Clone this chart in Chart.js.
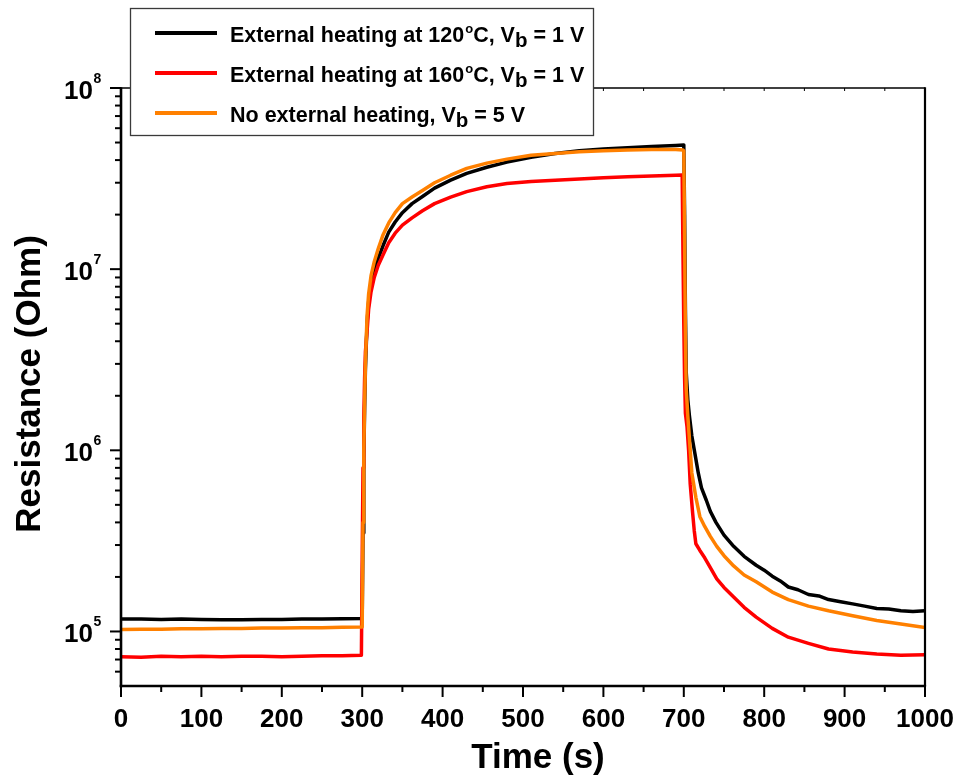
<!DOCTYPE html>
<html>
<head>
<meta charset="utf-8">
<title>Resistance response</title>
<script src="https://cdn.jsdelivr.net/npm/chart.js@4/dist/chart.umd.min.js"></script>
<style>
  html, body { margin: 0; padding: 0; background: #fff; }
  #wrap { width: 960px; height: 779px; position: relative; }
</style>
</head>
<body>
<div id="wrap"><canvas id="c" width="960" height="779"></canvas></div>
<script>
// ---- measured series: time (s) and resistance (Ohm) ----
const blackT = [0, 25, 50, 75, 100, 125, 150, 175, 200, 225, 250, 275, 299, 300,
  301, 302, 303, 304, 306, 308, 311, 315, 320, 326, 333, 341, 350, 362, 375, 390, 410, 430, 455, 480, 510, 540, 570, 600, 630, 660, 690,
  700, 701, 702, 703, 705, 707, 710, 714, 718, 722, 728, 733, 740, 750, 762, 775, 790, 800, 810, 820, 830, 842, 855, 868, 880, 895, 910, 925, 940, 955, 970, 985, 1000];
const blackR = [1.17e5, 1.17e5, 1.165e5, 1.17e5, 1.165e5, 1.16e5, 1.16e5, 1.165e5, 1.165e5, 1.17e5, 1.17e5, 1.175e5, 1.18e5, 1.18e5,
  3.5e5, 9e5, 1.7e6, 2.8e6, 5.0e6, 6.6e6, 8.2e6, 9.8e6, 1.15e7, 1.35e7, 1.6e7, 1.82e7, 2.05e7, 2.3e7, 2.52e7, 2.8e7, 3.1e7, 3.38e7, 3.65e7, 3.9e7, 4.15e7, 4.35e7, 4.5e7, 4.6e7, 4.68e7, 4.75e7, 4.82e7,
  4.85e7, 2.0e7, 6e6, 2.7e6, 1.9e6, 1.55e6, 1.2e6, 9.5e5, 7.5e5, 6.2e5, 5.3e5, 4.6e5, 4.0e5, 3.4e5, 2.95e5, 2.6e5, 2.32e5, 2.18e5, 2.02e5, 1.9e5, 1.76e5, 1.7e5, 1.6e5, 1.57e5, 1.5e5, 1.46e5, 1.42e5, 1.38e5, 1.34e5, 1.33e5, 1.3e5, 1.29e5, 1.3e5];

const redT = [0, 25, 50, 75, 100, 125, 150, 175, 200, 225, 250, 275, 299,
  300, 301, 302, 303, 304, 306, 308, 311, 315, 320, 326, 333, 341, 350, 362, 375, 390, 410, 430, 455, 480, 510, 540, 570, 600, 630, 660, 690, 698,
  699, 700, 701, 702, 704, 706, 708, 711, 713, 715, 720, 726, 733, 741, 750, 762, 775, 790, 810, 830, 855, 880, 910, 940, 970, 1000];
const redR = [7.25e4, 7.2e4, 7.3e4, 7.25e4, 7.3e4, 7.25e4, 7.3e4, 7.3e4, 7.25e4, 7.3e4, 7.35e4, 7.35e4, 7.4e4,
  2.5e5, 8e5, 1.5e6, 2.5e6, 3.5e6, 4.5e6, 6.0e6, 7.5e6, 9.0e6, 1.05e7, 1.2e7, 1.4e7, 1.58e7, 1.75e7, 1.92e7, 2.1e7, 2.3e7, 2.5e7, 2.68e7, 2.85e7, 2.97e7, 3.05e7, 3.1e7, 3.15e7, 3.2e7, 3.24e7, 3.27e7, 3.3e7, 3.31e7,
  1.2e7, 5e6, 2.5e6, 1.6e6, 1.35e6, 1.0e6, 6.5e5, 4.5e5, 3.6e5, 3.05e5, 2.8e5, 2.55e5, 2.25e5, 1.95e5, 1.75e5, 1.55e5, 1.36e5, 1.2e5, 1.04e5, 9.3e4, 8.6e4, 8.0e4, 7.7e4, 7.5e4, 7.4e4, 7.45e4];

const orangeT = [0, 25, 50, 75, 100, 125, 150, 175, 200, 225, 250, 275, 299, 300,
  301, 302, 303, 304, 306, 308, 311, 315, 320, 326, 333, 341, 350, 362, 375, 390, 410, 430, 455, 480, 510, 540, 570, 600, 630, 660, 690, 699,
  700, 701, 702, 703, 705, 708, 710, 715, 720, 726, 733, 741, 750, 762, 775, 790, 810, 830, 855, 880, 910, 940, 970, 1000];
const orangeR = [1.025e5, 1.03e5, 1.03e5, 1.035e5, 1.035e5, 1.04e5, 1.04e5, 1.045e5, 1.045e5, 1.05e5, 1.05e5, 1.055e5, 1.06e5, 1.06e5,
  4e5, 1.0e6, 1.8e6, 3.0e6, 5.5e6, 7.3e6, 9.2e6, 1.1e7, 1.3e7, 1.55e7, 1.8e7, 2.05e7, 2.3e7, 2.5e7, 2.72e7, 3.0e7, 3.3e7, 3.6e7, 3.85e7, 4.05e7, 4.25e7, 4.35e7, 4.45e7, 4.5e7, 4.55e7, 4.57e7, 4.58e7, 4.55e7,
  4.5e7, 1.5e7, 4.5e6, 2.2e6, 1.55e6, 1.0e6, 7.5e5, 5.5e5, 4.3e5, 3.8e5, 3.35e5, 2.95e5, 2.62e5, 2.3e5, 2.05e5, 1.88e5, 1.65e5, 1.5e5, 1.38e5, 1.3e5, 1.22e5, 1.15e5, 1.1e5, 1.05e5];

// ---- labels and ticks ----
const seriesLabels = ['External heating at 120\u00B0C, Vb = 1 V', 'External heating at 160\u00B0C, Vb = 1 V', 'No external heating, Vb = 5 V'];
const seriesColors = ['#000000', '#ff0000', '#ff8000'];
// legend text pieces, with superscript degree sign and subscript b
const legendParts = [
  [['External heating at 120', 'n'], ['o', 'sup'], ['C, V', 'n'], ['b', 'sub'], [' = 1 V', 'n']],
  [['External heating at 160', 'n'], ['o', 'sup'], ['C, V', 'n'], ['b', 'sub'], [' = 1 V', 'n']],
  [['No external heating, V', 'n'], ['b', 'sub'], [' = 5 V', 'n']]
];
const xTickValues = [0, 100, 200, 300, 400, 500, 600, 700, 800, 900, 1000];
const xMinorValues = [50, 150, 250, 350, 450, 550, 650, 750, 850, 950];
const yDecades = [5, 6, 7, 8];
const xTitle = 'Time (s)';
const yTitle = 'Resistance (Ohm)';

const FONT = '"Liberation Sans", Arial, Helvetica, sans-serif';

function toPoints(ts, rs) { return ts.map((t, i) => ({ x: t, y: rs[i] })); }

function drawRich(ctx, x, base, parts, size) {
  ctx.textAlign = 'left';
  ctx.textBaseline = 'alphabetic';
  parts.forEach(([txt, kind]) => {
    let s = size, dy = 0;
    if (kind === 'sup') { s = 13; dy = -9; x += 1; }
    if (kind === 'sub') { s = 20.5; dy = 5; }
    ctx.font = `bold ${s}px ${FONT}`;
    ctx.fillText(txt, x, base + dy);
    x += ctx.measureText(txt).width;
  });
}

const framePlugin = {
  id: 'frame',
  afterDraw(chart) {
    const { ctx, chartArea: a, scales: { x, y } } = chart;
    ctx.save();
    ctx.strokeStyle = '#000';
    ctx.lineCap = 'butt';
    const seg = (x1, y1, x2, y2) => { ctx.beginPath(); ctx.moveTo(x1, y1); ctx.lineTo(x2, y2); ctx.stroke(); };

    // x ticks (bottom, outward) and small marks along the top edge
    ctx.lineWidth = 2;
    xTickValues.forEach(v => { const p = x.getPixelForValue(v); seg(p, a.bottom, p, a.bottom + 11); });
    xMinorValues.forEach(v => { const p = x.getPixelForValue(v); seg(p, a.bottom, p, a.bottom + 6); });
    ctx.lineWidth = 1;
    xTickValues.concat(xMinorValues).forEach(v => { const p = x.getPixelForValue(v); seg(p, a.top, p, a.top + 3); });

    // y ticks (left, outward): decades and in-between multiples
    ctx.lineWidth = 2;
    yDecades.forEach(e => { const p = y.getPixelForValue(Math.pow(10, e)); seg(a.left - 11, p, a.left, p); });
    [4, 5, 6, 7].forEach(e => {
      [2, 3, 4, 5, 6, 7, 8, 9].forEach(m => {
        const v = m * Math.pow(10, e);
        if (v > 5e4 && v < 1e8) { const p = y.getPixelForValue(v); seg(a.left - 6, p, a.left, p); }
      });
    });

    // frame
    ctx.lineWidth = 1.6;
    seg(a.left, a.top, a.right, a.top);
    ctx.lineWidth = 2.2;
    seg(a.right, a.top - 0.8, a.right, a.bottom);
    ctx.lineWidth = 2.6;
    seg(a.left, a.top - 0.8, a.left, a.bottom + 1.3);
    seg(a.left - 1.3, a.bottom, a.right + 1.1, a.bottom);

    // y tick labels 10^n
    ctx.fillStyle = '#000';
    yDecades.forEach(e => {
      const p = y.getPixelForValue(Math.pow(10, e));
      ctx.font = `bold 26px ${FONT}`;
      ctx.textAlign = 'right';
      ctx.textBaseline = 'alphabetic';
      ctx.fillText('10', 93, p + 11);
      ctx.font = `bold 14px ${FONT}`;
      ctx.textAlign = 'left';
      ctx.fillText(String(e), 93.5, p - 5);
    });

    // axis titles
    ctx.font = `bold 35px ${FONT}`;
    ctx.textAlign = 'center';
    ctx.textBaseline = 'alphabetic';
    ctx.fillText(xTitle, 538, 768);
    ctx.save();
    ctx.translate(40, (a.top + a.bottom) / 2 - 3);
    ctx.rotate(-Math.PI / 2);
    ctx.fillText(yTitle, 0, 0);
    ctx.restore();

    // legend box
    ctx.fillStyle = '#fff';
    ctx.fillRect(130, 8, 463, 127);
    ctx.strokeStyle = '#3a3a3a';
    ctx.lineWidth = 1.3;
    ctx.strokeRect(130.5, 8.5, 463, 127);
    const rows = [33, 73, 113];
    rows.forEach((ry, i) => {
      ctx.strokeStyle = seriesColors[i];
      ctx.lineWidth = 4;
      seg(155, ry, 217, ry);
      ctx.fillStyle = '#000';
      drawRich(ctx, 230, ry + 8.7, legendParts[i], 21.5);
    });
    ctx.restore();
  }
};

new Chart(document.getElementById('c'), {
  type: 'line',
  data: {
    datasets: [
      { label: seriesLabels[0], data: toPoints(blackT, blackR), borderColor: seriesColors[0], order: 3 },
      { label: seriesLabels[1], data: toPoints(redT, redR), borderColor: seriesColors[1], order: 2 },
      { label: seriesLabels[2], data: toPoints(orangeT, orangeR), borderColor: seriesColors[2], order: 1 }
    ]
  },
  options: {
    responsive: false,
    animation: false,
    devicePixelRatio: 1,
    layout: { padding: { top: 88, right: 35, left: 0, bottom: 0 } },
    elements: {
      point: { radius: 0, hoverRadius: 0 },
      line: { borderWidth: 3.5, tension: 0, fill: false, borderJoinStyle: 'round', borderCapStyle: 'round' }
    },
    plugins: { legend: { display: false }, tooltip: { enabled: false } },
    scales: {
      x: {
        type: 'linear', min: 0, max: 1000,
        grid: { display: false }, border: { display: false },
        afterBuildTicks: s => { s.ticks = xTickValues.map(v => ({ value: v })); },
        ticks: { autoSkip: false, maxRotation: 0, padding: 10, color: '#000',
                 font: { family: FONT, size: 26, weight: 'bold' }, callback: v => String(v) },
        afterFit: s => { s.height = 93; s.paddingLeft = 0; s.paddingRight = 0; }
      },
      y: {
        type: 'logarithmic', min: 5e4, max: 1e8,
        grid: { display: false }, border: { display: false },
        ticks: { display: false },
        afterFit: s => { s.width = 121; s.paddingTop = 0; s.paddingBottom = 0; }
      }
    }
  },
  plugins: [framePlugin]
});
</script>
</body>
</html>
